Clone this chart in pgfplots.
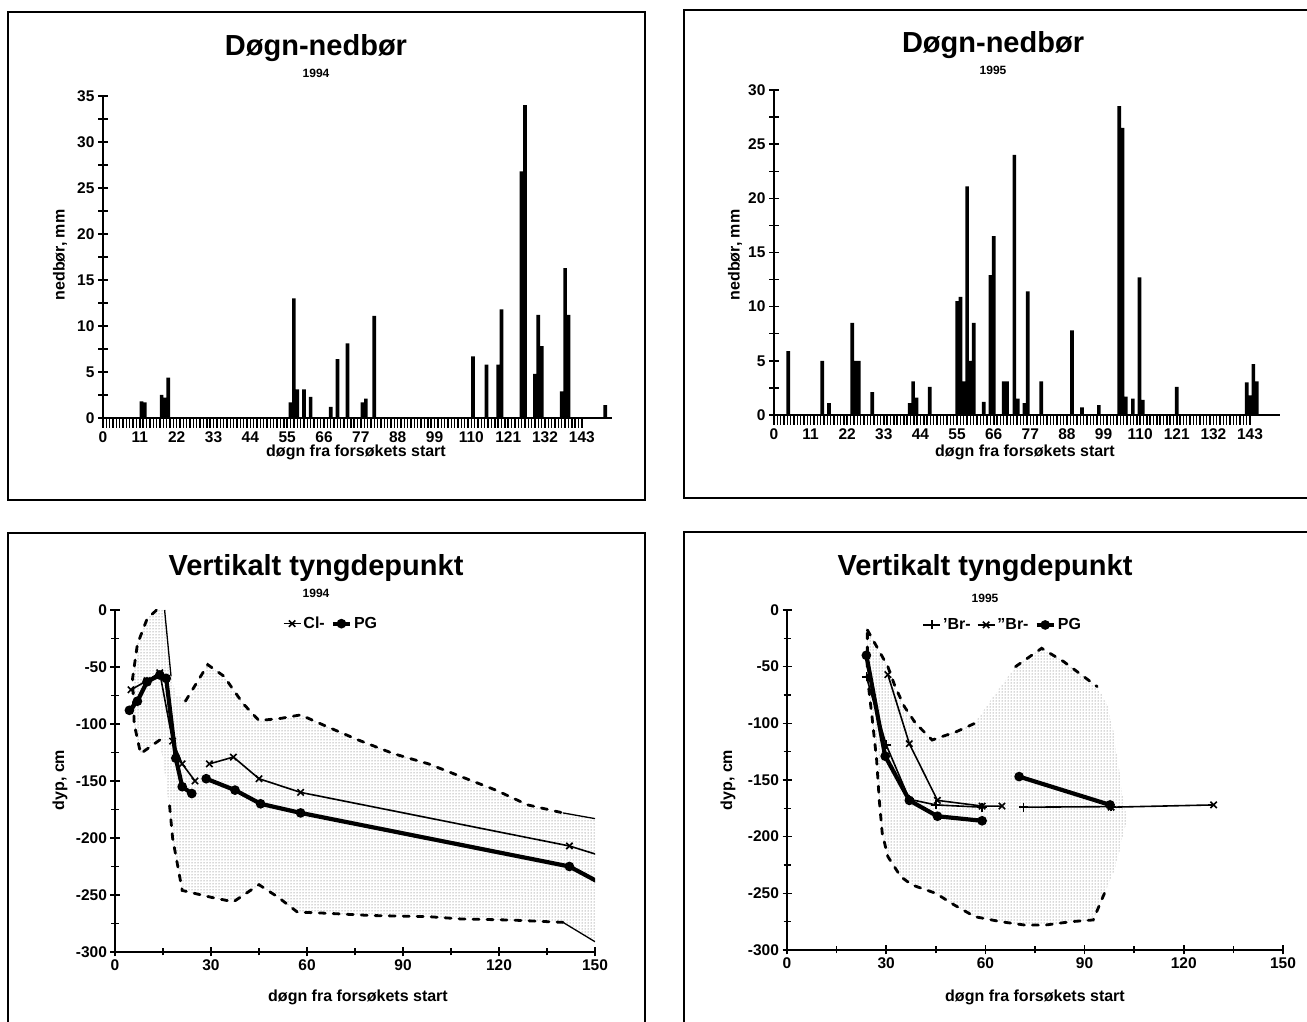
\documentclass[border=0pt]{standalone}
\usepackage{pgfplots}
\pgfplotsset{compat=1.18}
\usepackage{fontspec}
\setmainfont{Liberation Sans}
\usetikzlibrary{patterns}
\pgfplotsset{
  chartbase/.style={scale only axis, anchor=south west, axis lines*=left,
    axis line style={line width=2pt, black}, tick align=center,
    major tick length=9pt, minor tick length=7pt,
    tick style={line width=1.6pt, black},
    tick label style={font=\fontsize{15.5}{18}\selectfont\bfseries},
    /pgf/number format/assume math mode=true,
    unbounded coords=jump},
  barchart/.style={chartbase, ybar, bar width=1.1, xmin=0, xmax=152, ymin=0,
    xtick={0,11,...,143}, minor x tick num=10, minor y tick num=1,
    major tick length=10pt, minor tick length=10pt,
    minor tick style={line width=1.4pt}},
  depthchart/.style={chartbase, xmin=0, xmax=150, ymin=-300, ymax=0,
    xtick={0,30,...,150}, ytick={0,-50,...,-300}, minor x tick num=1, minor y tick num=1,
    legend columns=-1,
    legend style={draw=none, fill=none, font=\fontsize{16}{19}\selectfont\bfseries,
      /tikz/every even column/.append style={column sep=4pt}},
    legend cell align=left},
  env/.style={forget plot, draw=none, pattern=dots, pattern color=black!65},
  envline/.style={forget plot, black, line width=2.8pt, dash pattern=on 6pt off 8pt, line cap=round, mark=none},
  thinline/.style={forget plot, black, line width=1.3pt, mark=none},
  thinser/.style={black, line width=1.6pt, mark size=4.5pt, mark options={line width=1.6pt}},
  thickser/.style={black, line width=4.2pt, mark=*, mark size=2.6pt},
}
\newcommand{\ttl}{\fontsize{29}{34}\selectfont\bfseries}
\newcommand{\sub}{\fontsize{12}{14}\selectfont\bfseries}
\newcommand{\lab}{\fontsize{16}{19}\selectfont\bfseries}
\begin{document}
\begin{tikzpicture}[x=1pt,y=1pt]
\path[use as bounding box] (0,0) rectangle (1307,1022);
\clip (0,0) rectangle (1307,1022);
\fill[white] (0,0) rectangle (1307,1022);
% frames
\draw[line width=2pt] (8,1010) rectangle (645,522);
\draw[line width=2pt] (684,1012) rectangle (1330,524);
\draw[line width=2pt] (8,489) rectangle (645,-10);
\draw[line width=2pt] (684,490) rectangle (1330,-10);

% ---------------- top left: 1994 precipitation
\begin{axis}[barchart, at={(103pt,604pt)}, width=509pt, height=322pt, ymax=35, ytick={0,5,...,35}]
\addplot[fill=black, draw=none] coordinates {
(11.5,1.8) (12.5,1.7) (17.5,2.5) (18.5,2.2) (19.5,4.4) (56,1.7) (57,13.0) (58,3.1) (60,3.1) (62,2.3)
(68,1.2) (70,6.4) (73,8.1) (77.5,1.7) (78.5,2.1) (81,11.1) (110.5,6.7) (114.5,5.8) (118,5.8) (119,11.8)
(125,26.8) (126,34.0) (129,4.8) (130,11.2) (131,7.8) (137,2.9) (138,16.3) (139,11.2) (150,1.4)};
\end{axis}
\node[font=\ttl] at (316,974) {Døgn-nedbør};
\node[font=\sub] at (316,949) {1994};
\node[font=\lab] at (356,570) {døgn fra forsøkets start};
\node[font=\lab, rotate=90] at (60,767) {nedbør, mm};

% ---------------- top right: 1995 precipitation
\begin{axis}[barchart, at={(774pt,607pt)}, width=506pt, height=325pt, ymax=30, ytick={0,5,...,30}]
\addplot[fill=black, draw=none] coordinates {
(4.3,5.9) (14.5,5.0) (16.5,1.1) (23.5,8.5) (24.5,5.0) (25.5,5.0) (29.5,2.1) (40.8,1.1) (41.8,3.1) (42.8,1.6)
(46.8,2.6) (55,10.5) (56,10.9) (57,3.1) (58,21.1) (59,5.0) (60,8.5) (63,1.2) (65,12.9) (66,16.5)
(69,3.1) (70,3.1) (72.2,24.0) (73.2,1.5) (75.2,1.1) (76.2,11.4) (80.3,3.1) (89.5,7.8) (92.5,0.7) (97.6,0.9)
(103.7,28.5) (104.7,26.5) (105.7,1.7) (107.8,1.5) (109.8,12.7) (110.8,1.4) (121,2.6)
(142,3.0) (143,1.8) (144,4.7) (145,3.1)};
\end{axis}
\node[font=\ttl] at (993,977) {Døgn-nedbør};
\node[font=\sub] at (993,952) {1995};
\node[font=\lab] at (1025,570) {døgn fra forsøkets start};
\node[font=\lab, rotate=90] at (735,767) {nedbør, mm};

% ---------------- bottom left: 1994 centre of mass
\begin{axis}[depthchart, at={(115pt,70pt)}, width=480pt, height=342pt,
  legend style={at={(0.45,0.96)}, anchor=center}]
\addplot[env] coordinates {
(8,-126) (6,-100) (5.5,-60) (7,-30) (10,-8) (13,0) (16,0) (17.5,-55) (19,-75) (23,-80)
(29,-48) (34,-58) (40,-82) (45,-97) (52,-95) (58,-92) (66,-102) (76,-114) (87,-126)
(98,-135) (108,-146) (119,-158) (129,-171) (140,-178) (150,-183) (150,-291) (140,-274)
(124,-272) (108,-271) (98,-269) (80,-268) (66,-266) (57,-265) (51,-252) (45,-241)
(37,-256) (30,-252) (21,-246) (18,-200) (16,-150) (14,-114)} -- cycle;
\addplot[envline] coordinates {(14,-114) (8,-126) (6,-100) (5.5,-60) (7,-30) (10,-8) (13,0)};
\addplot[envline] coordinates {(22,-80) (29,-48) (34,-58) (40,-82) (45,-97) (52,-95) (58,-92)
(66,-102) (76,-114) (87,-126) (98,-135) (108,-146) (119,-158) (129,-171) (140,-178)};
\addplot[envline] coordinates {(140,-274) (124,-272) (108,-271) (98,-269) (80,-268) (66,-266)
(57,-265) (51,-252) (45,-241) (37,-256) (30,-252) (21,-246) (18,-200) (17,-170)};
\addplot[thinline] coordinates {(15.5,0) (17.5,-58)};
\addplot[thinline] coordinates {(140,-178) (150,-183)};
\addplot[thinline] coordinates {(140,-274) (150,-291)};
\addplot[thinser, mark=x]
coordinates {(5,-70) (10,-62) (14,-55) (18,-115) (21,-135) (25,-150) (27,nan)
(29.5,-135) (37,-129) (45,-148) (58,-160) (142,-207) (158,-221)};
\addlegendentry{Cl-}
\addplot[thickser]
coordinates {(4.5,-88) (7,-80) (10,-63) (14,-57) (16,-60) (19,-130) (21,-155) (24,-161) (26,nan)
(28.5,-148) (37.5,-158) (45.5,-170) (58,-178) (142,-225) (158,-249)};
\addlegendentry{PG}
\end{axis}
\node[font=\ttl] at (316,454) {Vertikalt tyngdepunkt};
\node[font=\sub] at (316,429) {1994};
\node[font=\lab] at (358,25) {døgn fra forsøkets start};
\node[font=\lab, rotate=90] at (60,242) {dyp, cm};

% ---------------- bottom right: 1995 centre of mass
\begin{axis}[depthchart, at={(787pt,72pt)}, width=496pt, height=340pt,
  legend style={at={(0.435,0.956)}, anchor=center}]
\addplot[env] coordinates {
(24.3,-17.6) (27.7,-35.3) (30.5,-50) (32.7,-67.6) (35.5,-85.3) (38.9,-100) (43.9,-114.7)
(51.2,-107.4) (56.8,-100) (62,-78) (69.1,-50) (77,-33.8) (83.7,-45.6) (93.8,-67.6)
(97.1,-85.3) (98.8,-108.8) (101,-153) (102.7,-185.3) (99.4,-226.5) (96,-250) (92.6,-273.5)
(85.9,-275) (78.1,-278) (71.9,-278) (64.6,-275) (56.8,-270.6) (50.6,-260.3) (45,-250)
(37.8,-242.6) (34.4,-235.3) (30.5,-217.6) (28.8,-197) (27.9,-167.6) (27.1,-132)
(25.7,-94) (24.3,-58.8)} -- cycle;
\addplot[envline] coordinates {(96,-250) (92.6,-273.5) (85.9,-275) (78.1,-278) (71.9,-278)
(64.6,-275) (56.8,-270.6) (50.6,-260.3) (45,-250) (37.8,-242.6) (34.4,-235.3) (30.5,-217.6)
(28.8,-197) (27.9,-167.6) (27.1,-132) (25.7,-94) (24.3,-58.8) (24.3,-17.6)};
\addplot[envline] coordinates {(24.3,-17.6) (27.7,-35.3) (30.5,-50) (32.7,-67.6) (35.5,-85.3)
(38.9,-100) (43.9,-114.7) (51.2,-107.4) (56.8,-100)};
\addplot[envline] coordinates {(69.1,-50) (77,-33.8) (83.7,-45.6) (93.8,-67.6)};
\addplot[thinser, mark=+]
coordinates {(24,-59) (30,-119) (37,-167) (45,-172) (59,-174) (65,nan)
(71.5,-174) (98,-173.5)};
\addlegendentry{'Br-}
\addplot[thinser, mark=x]
coordinates {(30.5,-57) (37,-118) (45.5,-168) (59,-173) (65,-173) (80,nan)
(98,-174) (129,-172)};
\addlegendentry{''Br-}
\addplot[thickser]
coordinates {(24,-40) (29.7,-129) (37,-168) (45.5,-182) (59,-186) (65,nan)
(70.2,-147) (97.7,-172)};
\addlegendentry{PG}
\end{axis}
\node[font=\ttl] at (985,454) {Vertikalt tyngdepunkt};
\node[font=\sub] at (985,424) {1995};
\node[font=\lab] at (1035,25) {døgn fra forsøkets start};
\node[font=\lab, rotate=90] at (728,242) {dyp, cm};
\end{tikzpicture}
\end{document}
